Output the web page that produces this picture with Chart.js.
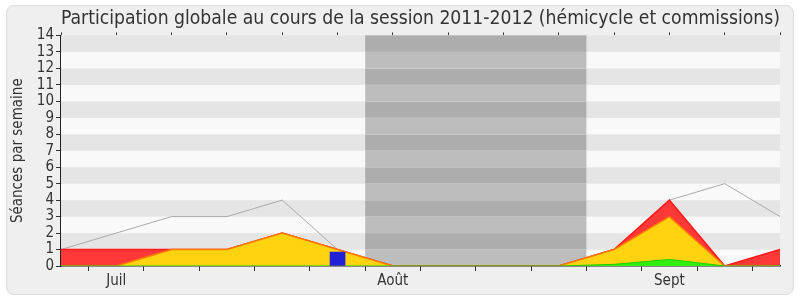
<!DOCTYPE html>
<html>
<head>
<meta charset="utf-8">
<script src="https://cdn.jsdelivr.net/npm/chart.js@4"></script>
<style>
  body { margin: 0; background: #fff; }
  #frame {
    position: absolute; left: 6px; top: 5px; width: 786px; height: 288px;
    background: #efefef; border: 1px solid #dcdcdc; border-radius: 8px;
  }
  #wrap { position: absolute; left: 0; top: 0; width: 800px; height: 300px; }
</style>
</head>
<body>
<div id="frame"></div>
<div id="wrap"><canvas id="c" width="800" height="300"></canvas></div>
<script>
const FONT = "'DejaVu Sans Condensed', 'DejaVu Sans', sans-serif";

// weeks of the session, only a few are labelled
const weeks = ["", "Juil", "", "", "", "", "Août", "", "", "", "", "Sept", "", ""];
const presences = [1, 1, 1, 1, 2, 1, 0, 0, 0, 0, 1, 4, 0, 1];
const participations = [0, 0, 1, 1, 2, 1, 0, 0, 0, 0, 1, 3, 0, 0];
const interventions = [0, 0, 0, 0, 0, 0, 0, 0, 0, 0, 0.1, 0.4, 0, 0];
const mediane = [1, 2, 3, 3, 4, 1, 0, 0, 0, 0, 1, 4, 5, 3];
const questions = [null, null, null, null, null, 0.85, null, null, null, null, null, null, null, null];
const vacances = [5.5, 9.5];

const background = {
  id: "background",
  beforeDatasetsDraw(chart) {
    const { ctx, chartArea: a, scales: { x, y } } = chart;
    ctx.save();
    for (let v = 0; v < 14; v++) {
      const top = y.getPixelForValue(v + 1), bot = y.getPixelForValue(v);
      ctx.fillStyle = v % 2 ? "#e5e5e5" : "#f9f9f9";
      ctx.fillRect(a.left, top, a.right - a.left, bot - top);
      const x0 = x.getPixelForValue(vacances[0]), x1 = x.getPixelForValue(vacances[1]);
      ctx.fillStyle = v % 2 ? "#adadad" : "#bdbdbd";
      ctx.fillRect(x0, top, x1 - x0, bot - top);
    }
    ctx.restore();
  }
};

new Chart(document.getElementById("c"), {
  data: {
    labels: weeks,
    datasets: [
      { type: "bar", data: questions, backgroundColor: "#2121d8", barThickness: 15 },
      { type: "line", data: interventions, borderColor: "#22cc00", backgroundColor: "#33ee11",
        borderWidth: 1, fill: "origin", pointRadius: 0, tension: 0 },
      { type: "line", data: participations, borderColor: "#ff7a00", backgroundColor: "#ffd30f",
        borderWidth: 1.5, fill: "origin", pointRadius: 0, tension: 0 },
      { type: "line", data: presences, borderColor: "#ff1a1a", backgroundColor: "#ff3838",
        borderWidth: 1.5, fill: "origin", pointRadius: 0, tension: 0 },
      { type: "line", data: mediane, borderColor: "#aaaaaa", borderWidth: 1,
        fill: false, pointRadius: 0, tension: 0 },
    ],
  },
  options: {
    responsive: false,
    animation: false,
    layout: { padding: { left: 0, right: 20, top: 0, bottom: 0 } },
    plugins: {
      legend: { display: false },
      tooltip: { enabled: false },
      title: {
        display: true,
        fullSize: false,
        text: "Participation globale au cours de la session 2011-2012 (hémicycle et commissions)",
        color: "#333",
        font: { family: FONT, size: 19.5, weight: "normal" },
        padding: { top: 7, bottom: 2 },
      },
    },
    scales: {
      x: {
        type: "category",
        offset: false,
        grid: { drawOnChartArea: false, color: "#333", tickLength: 5 },
        border: { color: "#222", width: 1.5 },
        ticks: { autoSkip: false, maxRotation: 0, color: "#333", padding: 1,
          font: { family: FONT, size: 15 } },
        afterFit: (s) => { s.height = 34; },
      },
      xTop: {
        type: "category",
        position: "top",
        offset: false,
        grid: { drawOnChartArea: false, color: "#333", tickLength: 3 },
        border: { display: false },
        ticks: { display: false, autoSkip: false },
        afterFit: (s) => { s.height = 3; },
      },
      y: {
        min: 0,
        max: 14,
        grid: { drawOnChartArea: false, color: "#333", tickLength: 5 },
        border: { color: "#222", width: 1.5 },
        ticks: { stepSize: 1, autoSkip: false, color: "#333", padding: 2,
          font: { family: FONT, size: 15 } },
        title: { display: true, text: "Séances par semaine", color: "#333",
          padding: { top: 9, bottom: 0 }, font: { family: FONT, size: 15 } },
        afterFit: (s) => { s.width = 61; },
      },
    },
  },
  plugins: [background],
});
</script>
</body>
</html>
